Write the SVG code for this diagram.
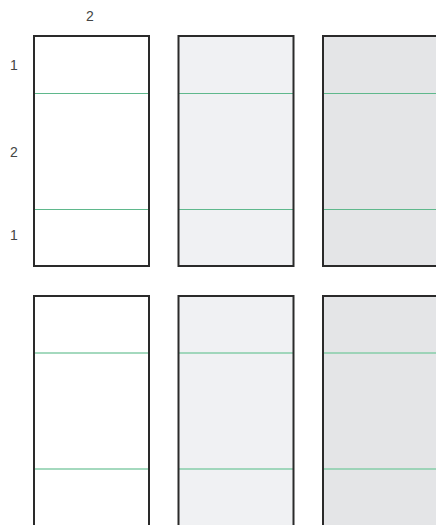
<svg xmlns="http://www.w3.org/2000/svg" width="436" height="525" viewBox="0 0 436 525">
<style>
.lbl{font-family:"Liberation Sans","DejaVu Sans",sans-serif;font-size:14px;fill:#444;text-anchor:middle}
.box{stroke:#2a2a2a;stroke-width:2}
.c1{fill:#ffffff}.c2{fill:#f0f1f3}.c3{fill:#e4e5e7}
.l1{stroke:#5fb88c;stroke-width:1}
.l2{stroke:#86cca8;stroke-width:1.6}
</style>
<rect width="436" height="525" fill="#fff"/>
<g id="labels">
<text class="lbl" x="90" y="21">2</text>
<text class="lbl" x="14" y="70">1</text>
<text class="lbl" x="14" y="157">2</text>
<text class="lbl" x="14" y="240">1</text>
</g>
<g id="row1">
<g id="r1c1"><rect class="c1" x="34" y="36" width="115" height="230"/><line class="l1" x1="34" y1="93.5" x2="149" y2="93.5"/><line class="l1" x1="34" y1="209.5" x2="149" y2="209.5"/><rect class="box" x="34" y="36" width="115" height="230" fill="none"/></g>
<g id="r1c2"><rect class="c2" x="178.5" y="36" width="115" height="230"/><line class="l1" x1="178.5" y1="93.5" x2="293.5" y2="93.5"/><line class="l1" x1="178.5" y1="209.5" x2="293.5" y2="209.5"/><rect class="box" x="178.5" y="36" width="115" height="230" fill="none"/></g>
<g id="r1c3"><rect class="c3" x="323" y="36" width="115" height="230"/><line class="l1" x1="323" y1="93.5" x2="438" y2="93.5"/><line class="l1" x1="323" y1="209.5" x2="438" y2="209.5"/><rect class="box" x="323" y="36" width="115" height="230" fill="none"/></g>
</g>
<g id="row2">
<g id="r2c1"><rect class="c1" x="34" y="296" width="115" height="232"/><line class="l2" x1="34" y1="353" x2="149" y2="353"/><line class="l2" x1="34" y1="469" x2="149" y2="469"/><rect class="box" x="34" y="296" width="115" height="232" fill="none"/></g>
<g id="r2c2"><rect class="c2" x="178.5" y="296" width="115" height="232"/><line class="l2" x1="178.5" y1="353" x2="293.5" y2="353"/><line class="l2" x1="178.5" y1="469" x2="293.5" y2="469"/><rect class="box" x="178.5" y="296" width="115" height="232" fill="none"/></g>
<g id="r2c3"><rect class="c3" x="323" y="296" width="115" height="232"/><line class="l2" x1="323" y1="353" x2="438" y2="353"/><line class="l2" x1="323" y1="469" x2="438" y2="469"/><rect class="box" x="323" y="296" width="115" height="232" fill="none"/></g>
</g>
<g id="connectors"/>
</svg>
